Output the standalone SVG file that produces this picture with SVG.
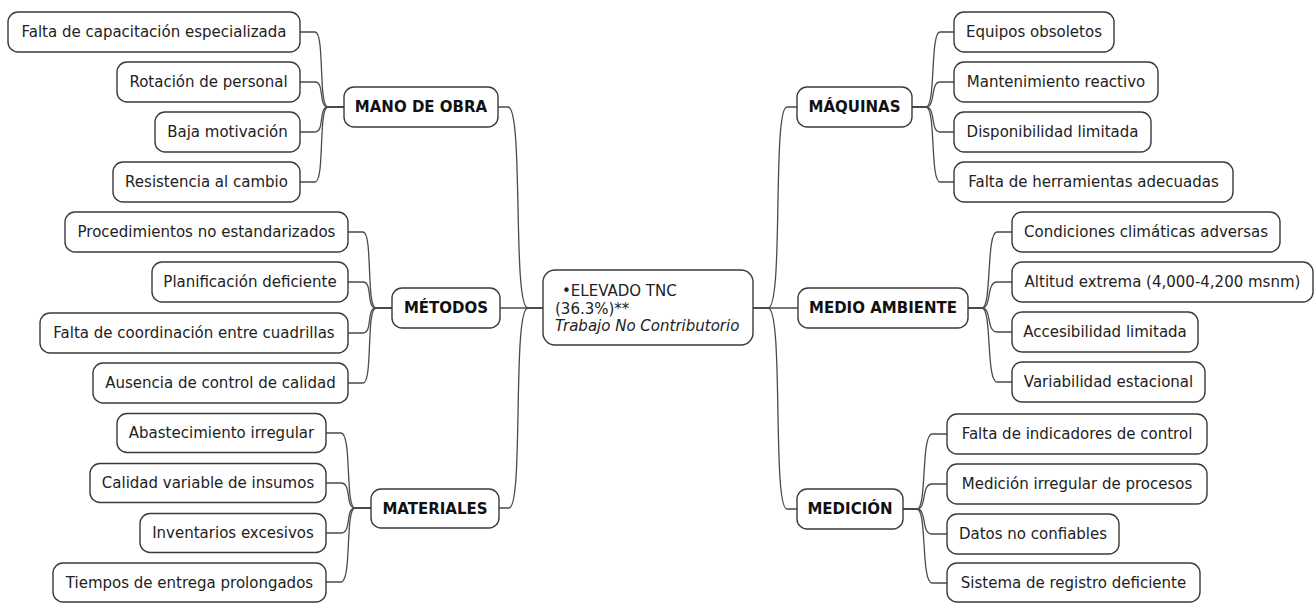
<svg xmlns="http://www.w3.org/2000/svg" width="1315" height="603" viewBox="0 0 1315 603">
<style>
.n rect{fill:#fff;stroke:#3a3a3a;stroke-width:1.4}
.n text{font-family:"DejaVu Sans",sans-serif;font-size:15px;fill:#222;text-anchor:middle}
.b text{font-weight:bold;fill:#111}
#connectors path{fill:none;stroke:#4a4a4a;stroke-width:1.3}
</style>
<rect width="1315" height="603" fill="#fff"/>
<g id="connectors">
<!-- center to main branches -->
<path d="M543,308 L528,308 C512,308 524,107 508,107 L498,107"/>
<path d="M543,308 L500,308"/>
<path d="M543,308 L528,308 C512,308 524,508 509,508 L499,508"/>
<path d="M753,308 L768,308 C784,308 772,107 787,107 L797,107"/>
<path d="M753,308 L798,308"/>
<path d="M753,308 L768,308 C784,308 772,509 787,509 L797,509"/>
<!-- MANO DE OBRA -->
<path d="M344,107 L328,107 C318,107 325,32 315,32 L300,32"/>
<path d="M344,107 L328,107 C318,107 325,82 315,82 L300,82"/>
<path d="M344,107 L328,107 C318,107 325,132 315,132 L300,132"/>
<path d="M344,107 L328,107 C318,107 325,182 315,182 L300,182"/>
<!-- METODOS -->
<path d="M392,308 L376,308 C366,308 373,232 363,232 L348,232"/>
<path d="M392,308 L376,308 C366,308 373,282 363,282 L348,282"/>
<path d="M392,308 L376,308 C366,308 373,333 363,333 L348,333"/>
<path d="M392,308 L376,308 C366,308 373,383 363,383 L348,383"/>
<!-- MATERIALES -->
<path d="M371,508 L355,508 C345,508 352,433 341,433 L326,433"/>
<path d="M371,508 L355,508 C345,508 352,483 341,483 L326,483"/>
<path d="M371,508 L355,508 C345,508 352,533 341,533 L326,533"/>
<path d="M371,508 L355,508 C345,508 352,582 341,582 L326,582"/>
<!-- MAQUINAS -->
<path d="M912,107 L926,107 C936,107 930,32 940,32 L954,32"/>
<path d="M912,107 L926,107 C936,107 930,82 940,82 L954,82"/>
<path d="M912,107 L926,107 C936,107 930,132 940,132 L954,132"/>
<path d="M912,107 L926,107 C936,107 930,182 940,182 L954,182"/>
<!-- MEDIO AMBIENTE -->
<path d="M968,308 L982,308 C992,308 986,232 997,232 L1012,232"/>
<path d="M968,308 L982,308 C992,308 986,282 997,282 L1012,282"/>
<path d="M968,308 L982,308 C992,308 986,332 997,332 L1012,332"/>
<path d="M968,308 L982,308 C992,308 986,382 997,382 L1012,382"/>
<!-- MEDICION -->
<path d="M903,509 L917,509 C927,509 921,434 932,434 L947,434"/>
<path d="M903,509 L917,509 C927,509 921,484 932,484 L947,484"/>
<path d="M903,509 L917,509 C927,509 921,534 932,534 L947,534"/>
<path d="M903,509 L917,509 C927,509 921,583 932,583 L947,583"/>
</g>

<g id="center" class="n">
<rect x="543" y="270" width="210" height="75" rx="12"/>
<text x="562" y="296" style="text-anchor:start">•ELEVADO TNC</text>
<text x="555" y="313.5" style="text-anchor:start">(36.3%)**</text>
<text x="555" y="331" style="text-anchor:start;font-style:italic">Trabajo No Contributorio</text>
</g>

<g id="mano-de-obra" class="n b"><rect x="344" y="87" width="154" height="40" rx="10"/><text x="421" y="112">MANO DE OBRA</text></g>
<g id="mo-1" class="n"><rect x="8" y="12" width="292" height="40" rx="10"/><text x="154" y="37">Falta de capacitación especializada</text></g>
<g id="mo-2" class="n"><rect x="117" y="62" width="183" height="40" rx="10"/><text x="208.5" y="87">Rotación de personal</text></g>
<g id="mo-3" class="n"><rect x="155" y="112" width="145" height="40" rx="10"/><text x="227.5" y="137">Baja motivación</text></g>
<g id="mo-4" class="n"><rect x="113" y="162" width="187" height="40" rx="10"/><text x="206.5" y="187">Resistencia al cambio</text></g>

<g id="metodos" class="n b"><rect x="392" y="288" width="108" height="40" rx="10"/><text x="446" y="313">MÉTODOS</text></g>
<g id="me-1" class="n"><rect x="65" y="212" width="283" height="40" rx="10"/><text x="206.5" y="237">Procedimientos no estandarizados</text></g>
<g id="me-2" class="n"><rect x="152" y="262" width="196" height="40" rx="10"/><text x="250" y="287">Planificación deficiente</text></g>
<g id="me-3" class="n"><rect x="40" y="313" width="308" height="40" rx="10"/><text x="194" y="338">Falta de coordinación entre cuadrillas</text></g>
<g id="me-4" class="n"><rect x="93" y="363" width="255" height="40" rx="10"/><text x="220.5" y="388">Ausencia de control de calidad</text></g>

<g id="materiales" class="n b"><rect x="371" y="489" width="128" height="39" rx="10"/><text x="435" y="513.5">MATERIALES</text></g>
<g id="ma-1" class="n"><rect x="117" y="413.5" width="209" height="39" rx="10"/><text x="221.5" y="438">Abastecimiento irregular</text></g>
<g id="ma-2" class="n"><rect x="90" y="463.5" width="236" height="39" rx="10"/><text x="208" y="488">Calidad variable de insumos</text></g>
<g id="ma-3" class="n"><rect x="140" y="513.5" width="186" height="39" rx="10"/><text x="233" y="538">Inventarios excesivos</text></g>
<g id="ma-4" class="n"><rect x="53" y="563" width="273" height="39" rx="10"/><text x="189.5" y="587.5">Tiempos de entrega prolongados</text></g>

<g id="maquinas" class="n b"><rect x="797" y="87" width="115" height="40" rx="10"/><text x="854.5" y="112">MÁQUINAS</text></g>
<g id="mq-1" class="n"><rect x="954" y="12" width="160" height="40" rx="10"/><text x="1034" y="37">Equipos obsoletos</text></g>
<g id="mq-2" class="n"><rect x="954" y="62" width="204" height="40" rx="10"/><text x="1056" y="87">Mantenimiento reactivo</text></g>
<g id="mq-3" class="n"><rect x="954" y="112" width="197" height="40" rx="10"/><text x="1052.5" y="137">Disponibilidad limitada</text></g>
<g id="mq-4" class="n"><rect x="954" y="162" width="279" height="40" rx="10"/><text x="1093.5" y="187">Falta de herramientas adecuadas</text></g>

<g id="medio-ambiente" class="n b"><rect x="798" y="288" width="170" height="40" rx="10"/><text x="883" y="313">MEDIO AMBIENTE</text></g>
<g id="mam-1" class="n"><rect x="1012" y="212" width="268" height="40" rx="10"/><text x="1146" y="237">Condiciones climáticas adversas</text></g>
<g id="mam-2" class="n"><rect x="1012" y="262" width="301" height="40" rx="10"/><text x="1162.5" y="287">Altitud extrema (4,000-4,200 msnm)</text></g>
<g id="mam-3" class="n"><rect x="1012" y="312" width="186" height="40" rx="10"/><text x="1105" y="337">Accesibilidad limitada</text></g>
<g id="mam-4" class="n"><rect x="1012" y="362" width="193" height="40" rx="10"/><text x="1108.5" y="387">Variabilidad estacional</text></g>

<g id="medicion" class="n b"><rect x="797" y="489" width="106" height="40" rx="10"/><text x="850" y="514">MEDICIÓN</text></g>
<g id="md-1" class="n"><rect x="947" y="414" width="260" height="40" rx="10"/><text x="1077" y="439">Falta de indicadores de control</text></g>
<g id="md-2" class="n"><rect x="947" y="464" width="260" height="40" rx="10"/><text x="1077" y="489">Medición irregular de procesos</text></g>
<g id="md-3" class="n"><rect x="947" y="514" width="172" height="40" rx="10"/><text x="1033" y="539">Datos no confiables</text></g>
<g id="md-4" class="n"><rect x="947" y="563" width="253" height="39" rx="10"/><text x="1073.5" y="588">Sistema de registro deficiente</text></g>
</svg>
